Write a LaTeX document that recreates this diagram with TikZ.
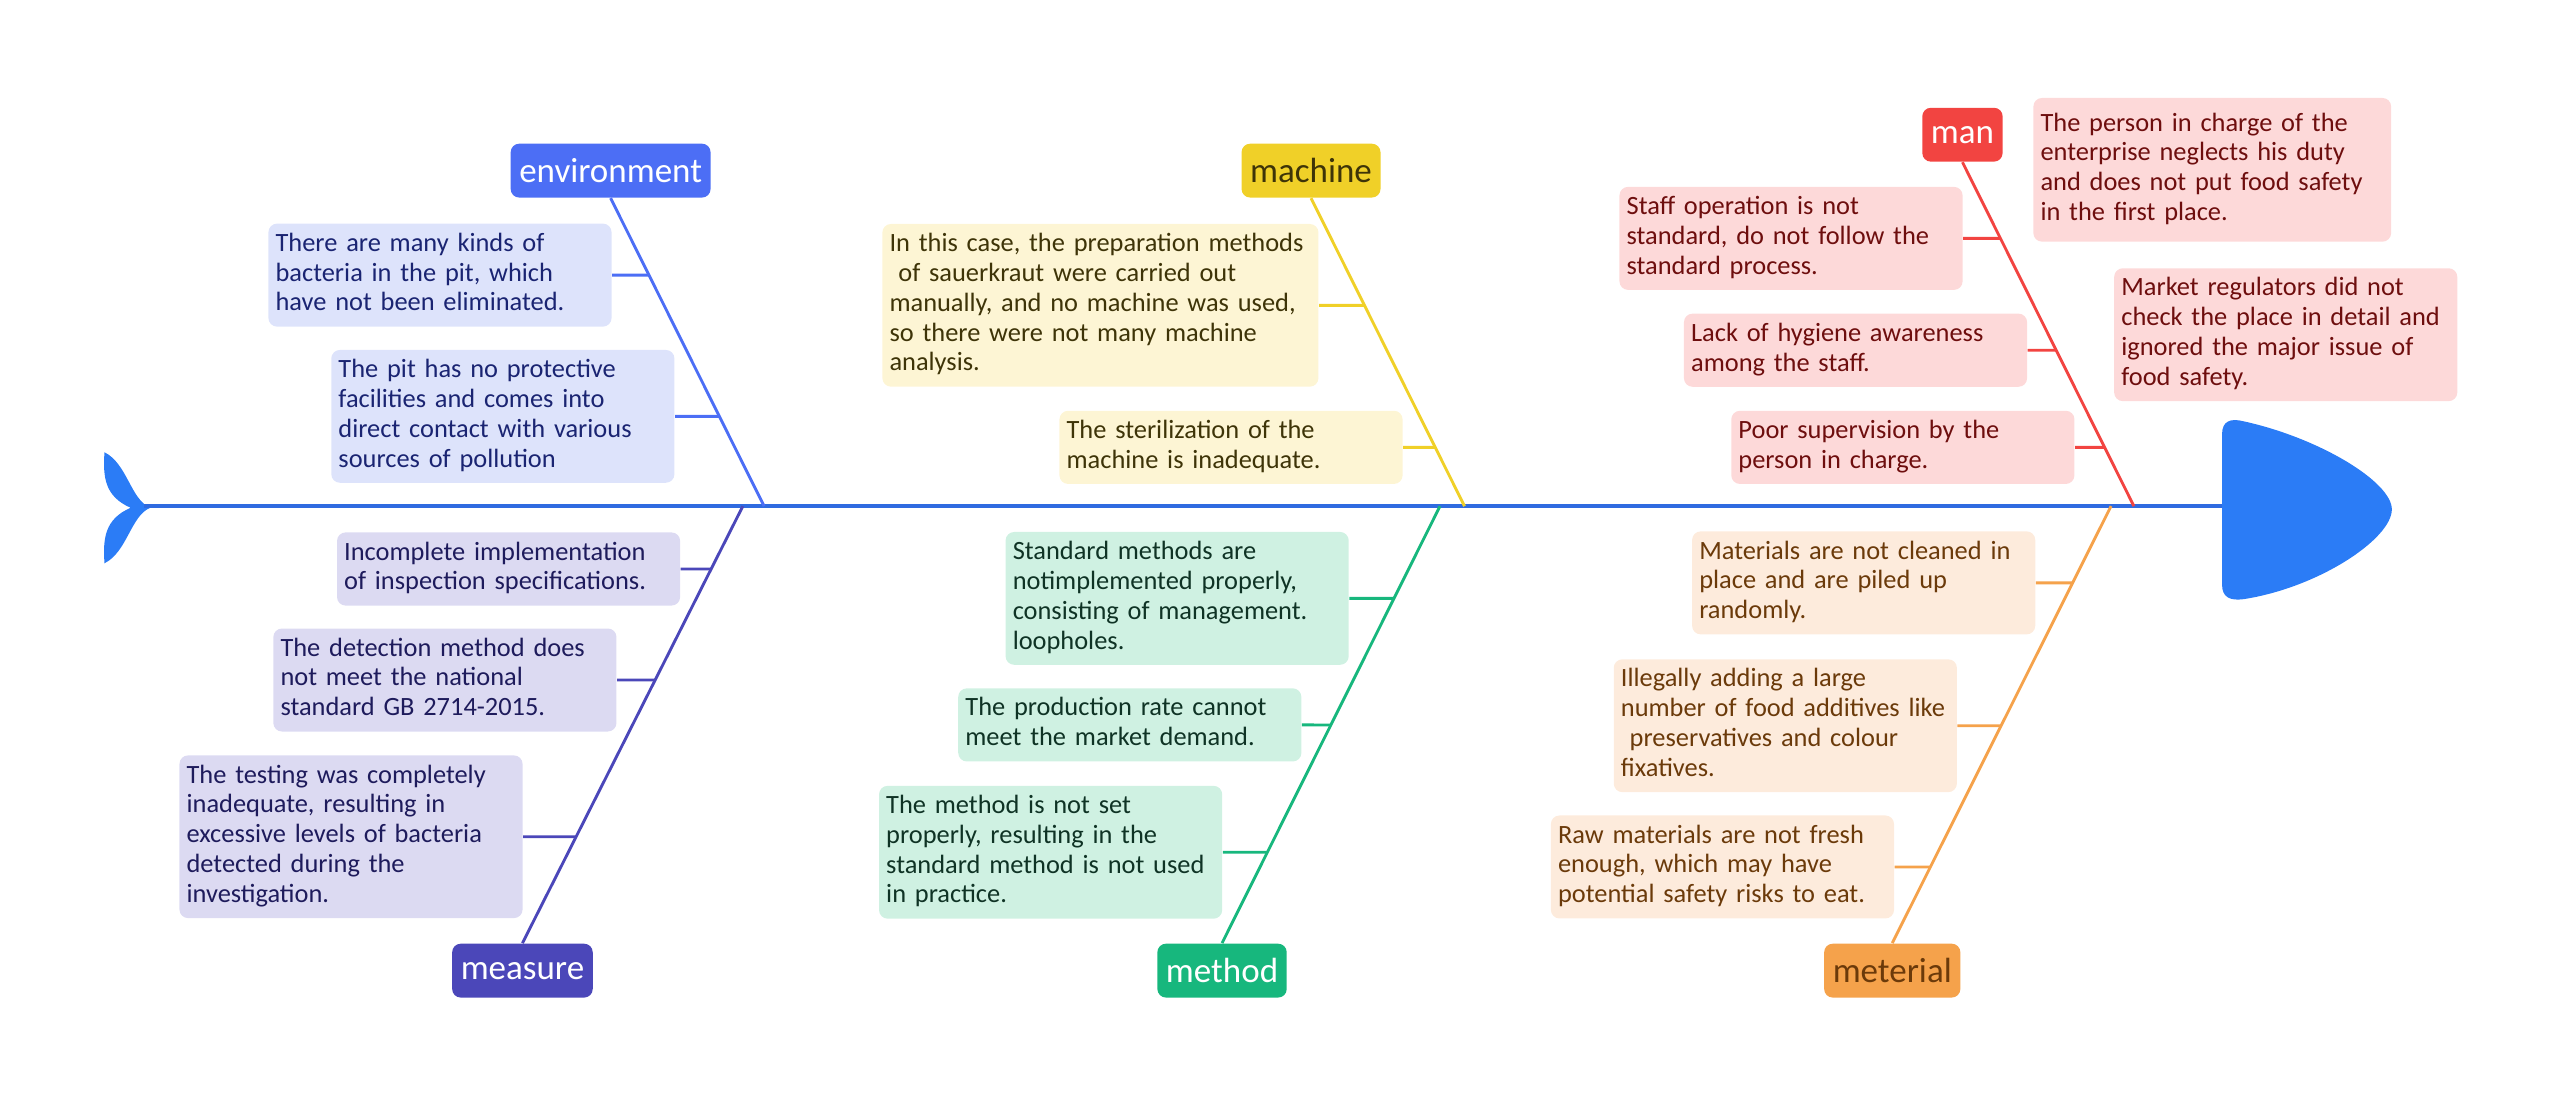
\documentclass[tikz,border=0pt]{standalone}
\usepackage{fontspec}
\setmainfont{Carlito}
\usetikzlibrary{positioning,calc}
\definecolor{fishc}{HTML}{2B7CF6}
\definecolor{spinec}{HTML}{2F6BE0}
\definecolor{envc}{HTML}{4C6EF5}\definecolor{envbg}{HTML}{DDE3FB}\definecolor{envtx}{HTML}{1A2472}
\definecolor{meac}{HTML}{4B47B9}\definecolor{meabg}{HTML}{DCDAF2}\definecolor{meatx}{HTML}{1E1B5C}
\definecolor{macc}{HTML}{F0D028}\definecolor{macbg}{HTML}{FDF5D4}\definecolor{mactx}{HTML}{3E3408}
\definecolor{metc}{HTML}{17B77D}\definecolor{metbg}{HTML}{CFF1E2}\definecolor{mettx}{HTML}{0F3325}
\definecolor{manc}{HTML}{F24441}\definecolor{manbg}{HTML}{FDD9D9}\definecolor{mantx}{HTML}{6E0E0E}
\definecolor{matc}{HTML}{F5A24B}\definecolor{matbg}{HTML}{FDEBDC}\definecolor{mattx}{HTML}{6B3A0A}
\newcommand{\notesize}{\fontsize{9.2}{10.4}\selectfont}
\tikzset{note/.style={rounded corners=3pt,align=left,text width=114.6pt,inner xsep=2.5pt,inner ysep=2.35pt,font=\notesize,
    execute at begin node=\strut,execute at end node=\strut},
  envn/.style={note,fill=envbg,text=envtx}, mean/.style={note,fill=meabg,text=meatx},
  macn/.style={note,fill=macbg,text=mactx}, metn/.style={note,fill=metbg,text=mettx},
  mann/.style={note,fill=manbg,text=mantx}, matn/.style={note,fill=matbg,text=mattx},
  cat/.style={rounded corners=3pt,minimum height=6.6mm,inner xsep=3pt,font=\fontsize{12.2}{14}\selectfont},
  bone/.style={line width=1pt}}

\begin{document}
\begin{tikzpicture}[x=0.2mm,y=-0.2mm]
\useasboundingbox (0,0) rectangle (1568,673);
% fish tail, spine, head
\coordinate (tail) at (88,310); \coordinate (head) at (1362,310);
\fill[fishc] (92,311) .. controls (80,306) and (78,284) .. (64,277) .. controls (63,292) and (64,304) .. (80,311)
  .. controls (64,318) and (63,330) .. (64,345) .. controls (78,338) and (80,316) .. (92,311) -- cycle;
\draw[spinec,line width=1.2pt] (tail) -- (head);
\fill[fishc] (1361,312) -- (1361,266) .. controls (1361,258) and (1366,256) .. (1374,258) .. controls (1420,268) and (1465,295) .. (1465,312)
  .. controls (1465,330) and (1420,360) .. (1374,367) .. controls (1366,368) and (1361,366) .. (1361,358) -- cycle;
\coordinate (ej) at (468,310); \coordinate (aj) at (455,310); \coordinate (cj) at (897,310);
\coordinate (tj) at (882,310); \coordinate (pj) at (1307,310); \coordinate (rj) at (1293,310);
% categories
\node[cat,fill=envc,text=white] (env) at (374,104.5){environment};
\node[cat,fill=meac,text=white] (mea) at (320,594.5){measure};
\node[cat,fill=macc,text=mactx] (mac) at (803,104.5){machine};
\node[cat,fill=metc,text=white] (met) at (748.5,594.5){method};
\node[cat,fill=manc,text=white] (man) at (1202,82.5){man};
\node[cat,fill=matc,text=mattx] (mat) at (1159,594.5){meterial};
\draw[bone,envc] (env.south)--(ej); \draw[bone,meac] (mea.north)--(aj); \draw[bone,macc] (mac.south)--(cj);
\draw[bone,metc] (met.north)--(tj); \draw[bone,manc] (man.south)--(pj); \draw[bone,matc] (mat.north)--(rj);
% environment
\node[envn] (e1) at (269.5,168.5){There are many kinds of\\bacteria in the pit, which\\have not been eliminated.};
\node[envn] (e2) at (308,255){The pit has no protective\\facilities and comes into\\direct contact with various\\sources of pollution};
% measure
\node[mean] (a1) at (311.5,348.5){Incomplete implementation\\of inspection specifications.};
\node[mean] (a2) at (272.5,416.5){The detection method does\\not meet the national\\standard GB 2714-2015.};
\node[mean] (a3) at (215,512.5){The testing was completely\\inadequate, resulting in\\excessive levels of bacteria\\detected during the\\investigation.};
% machine
\node[macn,text width=147pt] (c1) at (674,187){In this case, the preparation methods\\~of sauerkraut were carried out\\manually, and no machine was used,\\so there were not many machine\\analysis.};
\node[macn] (c2) at (754,274){The sterilization of the\\machine is inadequate.};
% method
\node[metn] (t1) at (721,366.5){Standard methods are\\notimplemented properly,\\consisting of management.\\loopholes.};
\node[metn] (t2) at (692,444){The production rate cannot\\meet the market demand.};
\node[metn] (t3) at (643.5,522){The method is not set\\properly, resulting in the\\standard method is not used\\in practice.};
% man
\node[mann] (p1) at (1097,146){Staff operation is not\\standard, do not follow the\\standard process.};
\node[mann] (p2) at (1136.5,214.5){Lack of hygiene awareness\\among the staff.};
\node[mann] (p3) at (1165.5,274){Poor supervision by the\\person in charge.};
\node[mann,text width=119.7pt,minimum height=17.6mm] (p4) at (1355,104){The person in charge of the\\enterprise neglects his duty\\and does not put food safety\\in the first place.};
\node[mann] (p5) at (1400,205){Market regulators did not\\check the place in detail and\\ignored the major issue of\\food safety.};
% meterial
\node[matn] (r1) at (1141.5,357){Materials are not cleaned in\\place and are piled up\\randomly.};
\node[matn] (r2) at (1093.5,444.5){Illegally adding a large\\number of food additives like\\~preservatives and colour\\fixatives.};
\node[matn] (r3) at (1055,531){Raw materials are not fresh\\enough, which may have\\potential safety risks to eat.};
% ribs
\draw[bone,envc] (e1.east)--(intersection of e1.east--e1.west and env.south--ej);
\draw[bone,envc] (e2.east)--(intersection of e2.east--e2.west and env.south--ej);
\draw[bone,meac] (a1.east)--(intersection of a1.east--a1.west and mea.north--aj);
\draw[bone,meac] (a2.east)--(intersection of a2.east--a2.west and mea.north--aj);
\draw[bone,meac] (a3.east)--(intersection of a3.east--a3.west and mea.north--aj);
\draw[bone,macc] (c1.east)--(intersection of c1.east--c1.west and mac.south--cj);
\draw[bone,macc] (c2.east)--(intersection of c2.east--c2.west and mac.south--cj);
\draw[bone,metc] (t1.east)--(intersection of t1.east--t1.west and met.north--tj);
\draw[bone,metc] (t2.east)--(intersection of t2.east--t2.west and met.north--tj);
\draw[bone,metc] (t3.east)--(intersection of t3.east--t3.west and met.north--tj);
\draw[bone,manc] (p1.east)--(intersection of p1.east--p1.west and man.south--pj);
\draw[bone,manc] (p2.east)--(intersection of p2.east--p2.west and man.south--pj);
\draw[bone,manc] (p3.east)--(intersection of p3.east--p3.west and man.south--pj);
\draw[bone,matc] (r1.east)--(intersection of r1.east--r1.west and mat.north--rj);
\draw[bone,matc] (r2.east)--(intersection of r2.east--r2.west and mat.north--rj);
\draw[bone,matc] (r3.east)--(intersection of r3.east--r3.west and mat.north--rj);
\end{tikzpicture}
\end{document}
